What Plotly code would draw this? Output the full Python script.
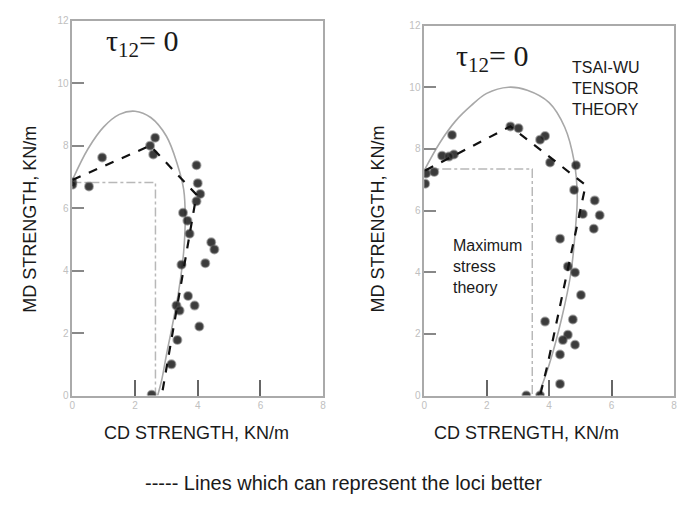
import plotly.graph_objects as go

W, H = 679, 510

# ---------------- data: left panel ----------------
L_pts_x = [0.0, 0.0, 0.53, 0.95, 2.48, 2.64, 2.58, 3.96, 4.0, 4.08, 3.96, 3.53, 3.67, 3.74,
           4.43, 4.53, 4.24, 3.48, 3.69, 3.32, 3.42, 3.9, 4.05, 3.35, 3.16, 2.53]
L_pts_y = [6.84, 6.75, 6.69, 7.62, 8.0, 8.25, 7.72, 7.37, 6.8, 6.45, 6.22, 5.85, 5.6, 5.18,
           4.91, 4.68, 4.24, 4.19, 3.19, 2.88, 2.72, 2.88, 2.21, 1.78, 1.0, 0.03]
L_tw_x = [0.0, 0.5, 1.0, 1.5, 2.0, 2.5, 3.0, 3.35, 3.55, 3.6, 3.55, 3.4, 3.2, 3.0, 2.85, 2.72]
L_tw_y = [6.9, 7.9, 8.6, 9.0, 9.1, 8.9, 8.3, 7.4, 6.6, 5.7, 4.6, 3.4, 2.3, 1.3, 0.5, 0.0]
L_dash_x = [0.0, 2.48, 3.96, 2.85]
L_dash_y = [6.9, 8.0, 6.43, 0.0]
L_max_x = [0.0, 2.65, 2.65]
L_max_y = [6.82, 6.82, 0.0]

# ---------------- data: right panel ----------------
R_pts_x = [0.03, 0.06, 0.32, 0.89, 0.57, 0.95, 0.79, 2.76, 3.02, 3.87, 3.71, 4.03, 4.86,
           4.8, 5.46, 5.08, 5.62, 5.43, 4.35, 4.6, 4.83, 5.02, 3.87, 4.76, 4.6, 4.44,
           4.83, 4.35, 4.35, 3.27, 3.71]
R_pts_y = [6.87, 7.2, 7.25, 8.45, 7.78, 7.82, 7.75, 8.73, 8.67, 8.42, 8.3, 7.56, 7.47,
           6.67, 6.33, 5.89, 5.85, 5.41, 5.09, 4.19, 3.99, 3.26, 2.4, 2.47, 1.97, 1.8,
           1.65, 1.33, 0.38, 0.0, 0.0]
R_tw_x = [0.0, 0.5, 1.0, 1.5, 2.0, 2.7, 3.3, 4.0, 4.5, 4.8, 4.9, 4.85, 4.7, 4.4, 4.0, 3.65]
R_tw_y = [7.3, 8.2, 8.9, 9.4, 9.8, 10.0, 9.9, 9.5, 8.7, 7.6, 6.5, 5.5, 4.0, 2.5, 1.0, 0.0]
R_dash_x = [0.03, 2.76, 4.76, 5.17, 3.95, 3.71]
R_dash_y = [7.3, 8.73, 7.15, 6.83, 1.0, 0.0]
R_max_x = [0.0, 3.46, 3.46]
R_max_y = [7.35, 7.35, 0.0]

x_ticks = [0, 2, 4, 6, 8]
y_ticks = [0, 2, 4, 6, 8, 10, 12]

GREY = "#a8a8a8"
MARK = "rgba(25,25,25,0.85)"

fig = go.Figure()

def add_panel(xa, ya, tw_x, tw_y, mx, my, dx, dy, px, py):
    fig.add_trace(go.Scatter(x=tw_x, y=tw_y, mode="lines", line=dict(color=GREY, width=1.6, shape="spline"),
                             xaxis=xa, yaxis=ya, showlegend=False, hoverinfo="skip"))
    fig.add_trace(go.Scatter(x=mx, y=my, mode="lines", line=dict(color="#b8b8b8", width=1.5, dash="dashdot"),
                             xaxis=xa, yaxis=ya, showlegend=False, hoverinfo="skip"))
    fig.add_trace(go.Scatter(x=px, y=py, mode="markers",
                             marker=dict(color=MARK, size=8, line=dict(color="rgba(90,90,90,0.5)", width=2)),
                             xaxis=xa, yaxis=ya, showlegend=False))
    fig.add_trace(go.Scatter(x=dx, y=dy, mode="lines", line=dict(color="#111", width=2.2, dash="dash"),
                             xaxis=xa, yaxis=ya, showlegend=False, hoverinfo="skip"))

add_panel("x", "y", L_tw_x, L_tw_y, L_max_x, L_max_y, L_dash_x, L_dash_y, L_pts_x, L_pts_y)
add_panel("x2", "y2", R_tw_x, R_tw_y, R_max_x, R_max_y, R_dash_x, R_dash_y, R_pts_x, R_pts_y)

def xax(domain, anchor):
    return dict(domain=domain, anchor=anchor, range=[0, 8], tickmode="array", tickvals=x_ticks,
                ticks="inside", ticklen=16, tickcolor="#666", tickwidth=2,
                showgrid=False, zeroline=False, showline=True,
                linecolor="#aaa", linewidth=1.5, mirror=True,
                tickfont=dict(size=10, color="#c0c0c0", family="Arial"))

def yax(domain, anchor):
    return dict(domain=domain, anchor=anchor, range=[0, 12], tickmode="array", tickvals=y_ticks,
                ticks="inside", ticklen=12, tickcolor="#888", tickwidth=2,
                showgrid=False, zeroline=False, showline=True,
                linecolor="#aaa", linewidth=1.5, mirror=True,
                tickfont=dict(size=10, color="#c0c0c0", family="Arial"))

fig.update_layout(
    width=W, height=H, margin=dict(l=0, r=0, t=0, b=0),
    paper_bgcolor="white", plot_bgcolor="white",
    xaxis=xax([70 / W, 323 / W], "y"),
    yaxis=yax([1 - 399 / H, 1 - 15 / H], "x"),
    xaxis2=xax([425 / W, 677 / W], "y2"),
    yaxis2=yax([1 - 399 / H, 1 - 20 / H], "x2"),
)

def txt(text, x, y, size, family="Arial", xanchor="center", angle=0, align="center"):
    return dict(text=text, x=x / W, y=1 - y / H, xref="paper", yref="paper", showarrow=False,
                xanchor=xanchor, yanchor="middle", textangle=angle, align=align,
                font=dict(family=family, size=size, color="#1a1a1a"))

ann = []
tau = "τ<sub>12</sub>= 0"
ann.append(txt(tau, 140, 38, 30, family="Liberation Serif"))
ann.append(txt(tau, 493, 53, 30, family="Liberation Serif"))
ann.append(txt("TSAI-WU<br>TENSOR<br>THEORY", 572, 85, 16, xanchor="left", align="left"))
ann.append(txt("Maximum<br>stress<br>theory", 452, 267, 16, xanchor="left", align="left"))
for cx in (27, 378):
    ann.append(txt("MD STRENGTH, KN/m", cx, 218, 18, angle=-90))
for cx in (195, 528):
    ann.append(txt("CD STRENGTH, KN/m", cx, 437, 18))
ann.append(txt("----- Lines which can represent the loci better", 344, 488, 20))
fig.update_layout(annotations=ann)

fig.write_html("out.html")
